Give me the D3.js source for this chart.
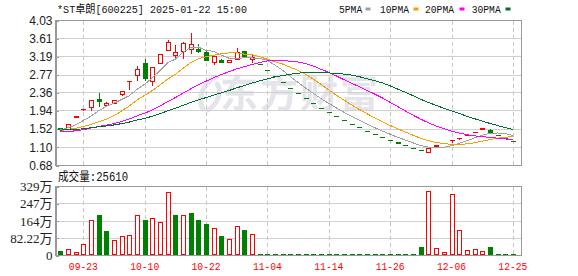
<!DOCTYPE html>
<html>
<head>
<meta charset="utf-8">
<script src="https://cdn.jsdelivr.net/npm/d3@7"></script>
<style>
  body { margin: 0; background: #fff; }
  svg { display: block; }
  .axis path, .axis line { stroke: #999; }
  .axis text { fill: #222; }
</style>
</head>
<body>
<svg id="chart" width="578" height="276"></svg>
<script>

// trading days shown on the chart
var dates = ["09-18","09-19","09-20","09-23","09-24","09-25","09-26","09-27","09-30","10-08",
             "10-09","10-10","10-11","10-14","10-15","10-16","10-17","10-18","10-21","10-22",
             "10-23","10-24","10-25","10-28","10-29","10-30","10-31","11-04","11-05","11-06",
             "11-07","11-08","11-11","11-12","11-13","11-14","11-15","11-18","11-19","11-20",
             "11-21","11-22","11-25","11-26","11-27","11-28","11-29","12-02","12-03","12-04",
             "12-05","12-06","12-09","12-10","12-11","12-12","12-13","12-16","12-17","12-25"];

var opens  = [1.53,1.52,1.80,1.97,2.03,2.20,2.07,2.12,2.33,2.62,
              2.77,3.04,2.61,3.04,3.33,3.22,3.31,3.36,3.36,3.29,
              3.07,3.11,3.06,3.13,3.31,3.13,3.02,2.87,2.73,2.59,
              2.46,2.34,2.22,2.11,2.00,1.90,1.81,1.72,1.63,1.55,
              1.47,1.40,1.33,1.26,1.20,1.14,1.08,1.03,0.98,1.13,
              1.19,1.25,1.31,1.38,1.45,1.52,1.50,1.37,1.30,1.24];
var highs  = [1.54,1.64,1.80,1.97,2.18,2.35,2.14,2.18,2.40,2.62,
              2.97,3.13,2.94,3.24,3.58,3.46,3.53,3.75,3.48,3.32,
              3.20,3.15,3.12,3.39,3.31,3.25,3.02,2.87,2.73,2.59,
              2.46,2.34,2.22,2.11,2.00,1.90,1.81,1.72,1.63,1.55,
              1.47,1.40,1.33,1.26,1.20,1.14,1.08,1.03,1.08,1.13,
              1.19,1.25,1.31,1.38,1.45,1.52,1.52,1.37,1.30,1.24];
var lows   = [1.51,1.52,1.80,1.93,1.93,2.04,2.03,2.12,2.29,2.43,
              2.64,2.64,2.51,3.04,3.33,3.13,3.13,3.25,3.29,3.11,
              3.00,3.04,3.05,3.13,3.18,3.05,3.02,2.87,2.73,2.59,
              2.46,2.34,2.22,2.11,2.00,1.90,1.81,1.72,1.63,1.55,
              1.47,1.40,1.33,1.26,1.20,1.14,1.08,1.03,0.98,1.13,
              1.19,1.19,1.27,1.36,1.45,1.52,1.44,1.37,1.30,1.24];
var closes = [1.52,1.63,1.80,1.97,2.18,2.16,2.11,2.18,2.40,2.62,
              2.89,2.69,2.94,3.24,3.52,3.29,3.50,3.47,3.31,3.11,
              3.20,3.06,3.11,3.29,3.18,3.18,3.02,2.87,2.73,2.59,
              2.46,2.34,2.22,2.11,2.00,1.90,1.81,1.72,1.63,1.55,
              1.47,1.40,1.33,1.26,1.20,1.14,1.08,1.03,1.08,1.13,
              1.19,1.25,1.31,1.38,1.45,1.52,1.44,1.37,1.30,1.24];

// volume in 万
var volumes = [18,29,12,54,168,192,116,73,92,97,
               191,168,177,159,300,192,192,198,168,149,
               129,92,77,140,121,102,1.9,1.6,1.4,1.3,
               1.5,1.2,1.4,1.6,1.3,1.2,1.5,1.4,1.7,1.3,
               1.6,1.5,1.8,1.4,2.0,1.6,1.9,39,304,34,
               15,290,119,25,29,20,39,2.8,2.2,2.561];

var ma5  = [1.50,1.55,1.62,1.72,1.820,1.948,2.044,2.120,2.206,2.294,
            2.440,2.556,2.708,2.876,3.056,3.136,3.298,3.404,3.418,3.336,
            3.318,3.230,3.158,3.154,3.168,3.164,3.156,3.108,2.996,2.878,
            2.734,2.598,2.468,2.344,2.226,2.114,2.008,1.908,1.812,1.722,
            1.636,1.554,1.476,1.402,1.332,1.266,1.202,1.142,1.106,1.092,
            1.102,1.136,1.192,1.252,1.316,1.382,1.420,1.432,1.416,1.374];
var ma10 = [1.49,1.51,1.54,1.58,1.63,1.69,1.75,1.83,1.94,2.057,
            2.194,2.300,2.414,2.541,2.675,2.788,2.927,3.056,3.147,3.196,
            3.227,3.264,3.281,3.286,3.252,3.241,3.193,3.133,3.075,3.023,
            2.949,2.877,2.788,2.670,2.552,2.424,2.303,2.188,2.078,1.974,
            1.875,1.781,1.692,1.607,1.527,1.451,1.378,1.309,1.254,1.212,
            1.184,1.169,1.167,1.179,1.204,1.242,1.278,1.312,1.334,1.345];
var ma20 = [1.455,1.464,1.482,1.508,1.544,1.580,1.613,1.649,1.697,1.755,
            1.827,1.889,1.964,2.053,2.157,2.249,2.351,2.451,2.544,2.627,
            2.711,2.782,2.848,2.914,2.964,3.015,3.060,3.095,3.111,3.110,
            3.088,3.071,3.035,2.978,2.902,2.833,2.748,2.661,2.577,2.499,
            2.412,2.329,2.240,2.139,2.040,1.938,1.841,1.749,1.666,1.593,
            1.530,1.475,1.430,1.393,1.366,1.347,1.328,1.311,1.294,1.279];
var ma30 = [1.499,1.503,1.513,1.529,1.552,1.574,1.594,1.617,1.647,1.684,
            1.731,1.770,1.818,1.876,1.944,2.003,2.070,2.136,2.196,2.250,
            2.307,2.359,2.413,2.473,2.529,2.585,2.636,2.682,2.723,2.759,
            2.790,2.814,2.828,2.832,2.826,2.818,2.808,2.792,2.767,2.731,
            2.684,2.641,2.587,2.521,2.444,2.372,2.291,2.210,2.136,2.070,
            2.003,1.942,1.882,1.819,1.761,1.706,1.653,1.603,1.555,1.510];

var priceTicks = [0.68, 1.10, 1.52, 1.94, 2.36, 2.77, 3.19, 3.61, 4.03];
var volTicks = [0, 82.22, 164.4, 246.7, 328.9];
var volTickLabels = ["0", "82.22万", "164万", "247万", "329万"];
var dateTicks = ["09-23", "10-10", "10-22", "11-04", "11-14", "11-26", "12-06", "12-25"];
var maNames = ["5PMA", "10PMA", "20PMA", "30PMA"];
var titleText = "*ST卓朗[600225] 2025-01-22 15:00";
var volTitleText = "成交量:25610";

var RED = "#ff0000", GREEN = "#008000";
var maColours = ["#a0a0a0", "#f2a100", "#ff00ff", "#006f35"];
var monoFont = "'Liberation Mono', 'Noto Sans CJK SC', monospace";

var svg = d3.select("#chart");
svg.append("rect").attr("width", 578).attr("height", 276).attr("fill", "#fff");

var left = 55.5, right = 521.5,
    pTop = 20.5, pBottom = 165.5,
    vTop = 186.5, vBottom = 255.5;

var x = d3.scaleBand().domain(d3.range(dates.length)).range([56.5, 516.7]);
function cx(i) { return x(i) + x.bandwidth() / 2; }
var y = d3.scaleLinear().domain([0.68, 4.03]).range([pBottom, pTop]);
var yv = d3.scaleLinear().domain([0, 328.9]).range([vBottom, vTop]);

// watermark (logo swirl + name)
var wm = svg.append("g").attr("fill", "none").attr("stroke", "#e4e4ea")
    .attr("stroke-width", 5).attr("stroke-linecap", "round");
wm.append("path").attr("d", "M216,77 C203,83 197,98 203,109");
wm.append("path").attr("d", "M208,110 C219,103 222,90 217,84");
svg.append("text")
    .attr("x", 220).attr("y", 107)
    .attr("font-family", "'Noto Sans CJK SC', sans-serif")
    .attr("font-size", 38).attr("font-weight", "bold")
    .attr("letter-spacing", 2)
    .attr("fill", "#e4e4ea")
    .text("东方财富");

// horizontal grid
var grid = svg.append("g").attr("shape-rendering", "crispEdges");
grid.selectAll(".hp").data(priceTicks).enter().append("line")
    .attr("x1", left).attr("x2", right)
    .attr("y1", function(d) { return y(d); }).attr("y2", function(d) { return y(d); })
    .attr("stroke", "#d0d0d0");
grid.selectAll(".hv").data(volTicks).enter().append("line")
    .attr("x1", left).attr("x2", right)
    .attr("y1", function(d) { return yv(d); }).attr("y2", function(d) { return yv(d); })
    .attr("stroke", "#d0d0d0");

// vertical dashed grid at date labels
dateTicks.forEach(function(t) {
    var xi = Math.round(cx(dates.indexOf(t))) + 0.5;
    [[pTop, pBottom], [vTop, vBottom]].forEach(function(r) {
        grid.append("line")
            .attr("x1", xi).attr("x2", xi).attr("y1", r[0]).attr("y2", r[1])
            .attr("stroke", "#c8c8c8").attr("stroke-dasharray", "4,3");
    });
});

// panel borders
[[pTop, pBottom], [vTop, vBottom]].forEach(function(r) {
    grid.append("rect")
        .attr("x", left).attr("y", r[0])
        .attr("width", right - left).attr("height", r[1] - r[0])
        .attr("fill", "none").attr("stroke", "#999");
});

// axes
var gy = svg.append("g").attr("class", "axis").attr("transform", "translate(" + left + ",0)")
    .attr("shape-rendering", "crispEdges")
    .call(d3.axisLeft(y).tickValues(priceTicks).tickFormat(d3.format(".2f"))
        .tickSize(-3).tickSizeOuter(0).tickPadding(3));
gy.selectAll("text").attr("font-family", "'Liberation Sans', Arial, sans-serif").attr("font-size", 12);

var gv = svg.append("g").attr("class", "axis").attr("transform", "translate(" + left + ",0)")
    .attr("shape-rendering", "crispEdges")
    .call(d3.axisLeft(yv).tickValues(volTicks).tickFormat(function(d, i) { return volTickLabels[i]; })
        .tickSize(-3).tickSizeOuter(0).tickPadding(3));
gv.selectAll("text").attr("font-family", "'Liberation Serif', 'Noto Sans CJK SC', serif").attr("font-size", 13);

// x labels
svg.selectAll(".xl").data(dateTicks).enter().append("text")
    .attr("x", function(d) { return cx(dates.indexOf(d)); })
    .attr("y", 270)
    .attr("text-anchor", "middle")
    .attr("font-family", monoFont).attr("font-size", 11)
    .attr("textLength", 29).attr("lengthAdjust", "spacingAndGlyphs")
    .attr("fill", RED)
    .text(function(d) { return d; });

// candles
function candleUp(i) {
    if (closes[i] !== opens[i]) return closes[i] > opens[i];
    return i === 0 || closes[i] >= closes[i - 1];
}
function volUp(i) {
    if (i === 0) return candleUp(0);
    return closes[i] >= closes[i - 1];
}

var gc = svg.append("g").attr("shape-rendering", "crispEdges");
d3.range(dates.length).forEach(function(i) {
    var c = Math.round(cx(i)) + 0.5,
        col = candleUp(i) ? RED : GREEN;
    if (highs[i] > lows[i]) {
        gc.append("line").attr("x1", c).attr("x2", c)
            .attr("y1", y(highs[i])).attr("y2", y(lows[i]))
            .attr("stroke", col);
    }
    if (opens[i] === closes[i]) {
        gc.append("line").attr("x1", c - 2.5).attr("x2", c + 2.5)
            .attr("y1", y(closes[i])).attr("y2", y(closes[i]))
            .attr("stroke", col).attr("stroke-width", 1.3);
    } else {
        var top = y(Math.max(opens[i], closes[i])), bot = y(Math.min(opens[i], closes[i]));
        gc.append("rect").attr("x", c - 2).attr("width", 4)
            .attr("y", top).attr("height", Math.max(bot - top, 1))
            .attr("fill", candleUp(i) ? "#fff" : col).attr("stroke", col);
    }
});

// volume bars
d3.range(dates.length).forEach(function(i) {
    var c = Math.round(cx(i)) + 0.5,
        col = volUp(i) ? RED : GREEN,
        top = yv(volumes[i]),
        h = Math.max(vBottom - top, 1);
    if (h <= 1.5) {
        gc.append("line").attr("x1", c - 2.5).attr("x2", c + 2.5)
            .attr("y1", vBottom - 1).attr("y2", vBottom - 1).attr("stroke", col);
    } else {
        gc.append("rect").attr("x", c - 2).attr("width", 4)
            .attr("y", top).attr("height", h - 1)
            .attr("fill", volUp(i) ? "#fff" : col).attr("stroke", col);
    }
});

// moving averages
var line = d3.line().x(function(d, i) { return cx(i); }).y(function(d) { return y(d); });
[ma5, ma10, ma20, ma30].forEach(function(s, k) {
    svg.append("path").attr("d", line(s))
        .attr("fill", "none").attr("stroke", maColours[k]).attr("stroke-width", 1)
        .attr("shape-rendering", "crispEdges");
});

// title
svg.append("text").attr("x", 57).attr("y", 12.5)
    .attr("font-family", monoFont).attr("font-size", 11.5)
    .attr("textLength", 190).attr("lengthAdjust", "spacingAndGlyphs")
    .attr("fill", "#111")
    .text(titleText);

// legend
var legendX = [339, 380, 425, 471.7], swatchX = [365.5, 413.5, 459.5, 505.5];
maNames.forEach(function(n, k) {
    svg.append("text").attr("x", legendX[k]).attr("y", 12.5)
        .attr("font-family", monoFont).attr("font-size", 11)
        .attr("textLength", n.length * 5.8).attr("lengthAdjust", "spacingAndGlyphs")
        .attr("fill", "#111")
        .text(n);
    svg.append("rect").attr("x", swatchX[k]).attr("y", 7.5)
        .attr("width", 5).attr("height", 3)
        .attr("fill", maColours[k]);
});

// volume title
svg.append("text").attr("x", 58).attr("y", 181)
    .attr("font-family", monoFont).attr("font-size", 12.5)
    .attr("textLength", 70).attr("lengthAdjust", "spacingAndGlyphs")
    .attr("fill", "#111")
    .text(volTitleText);

</script>
</body>
</html>
